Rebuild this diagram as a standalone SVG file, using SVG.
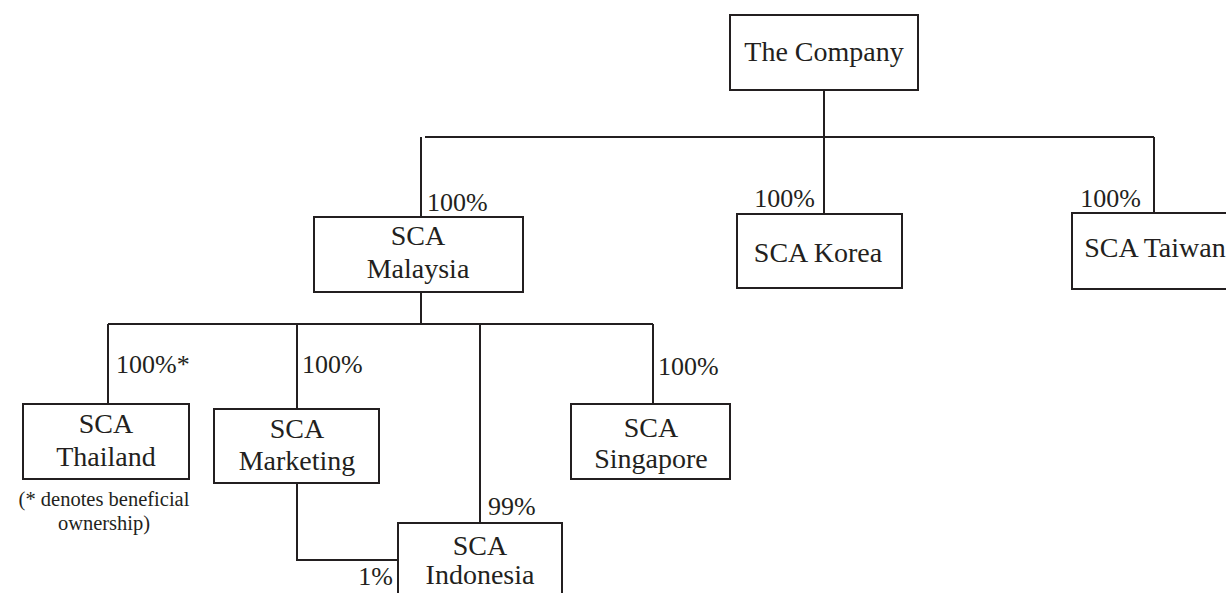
<svg xmlns="http://www.w3.org/2000/svg" width="1226" height="593" viewBox="0 0 1226 593">
<style>
rect.box{fill:#fff;stroke:#231f20;stroke-width:2}
.conn path{fill:none;stroke:#231f20;stroke-width:2}
text{font-family:"Liberation Serif","Times New Roman",serif;fill:#231f20}
.n{font-size:28px;text-anchor:middle}
.p{font-size:26px}
.note{font-size:20.5px;text-anchor:middle}
</style>
<rect width="1226" height="593" fill="#fff"/>
<g class="conn" id="connectors">
<path d="M824 90V137M425 137H1154M421 137V217M824 137V214M1154 137V213"/>
<path d="M421 292V324M108 324H653M108 324V404M297 324V409M480 324V523M653 324V404"/>
<path d="M297 483V560H398"/>
</g>
<g id="company"><rect class="box" x="730" y="15" width="188" height="75"/><text class="n" x="824" y="61">The Company</text></g>
<g id="malaysia"><rect class="box" x="314" y="217" width="209" height="75"/><text class="n" x="418" y="245">SCA</text><text class="n" x="418" y="278">Malaysia</text><text class="p" x="427" y="211">100%</text></g>
<g id="korea"><rect class="box" x="737" y="214" width="165" height="74"/><text class="n" x="818" y="262">SCA Korea</text><text class="p" x="815" y="207" text-anchor="end">100%</text></g>
<g id="taiwan"><rect class="box" x="1072" y="213" width="170" height="76"/><text class="n" x="1155" y="257">SCA Taiwan</text><text class="p" x="1141" y="207" text-anchor="end">100%</text></g>
<g id="thailand"><rect class="box" x="23" y="404" width="166" height="75"/><text class="n" x="106" y="433">SCA</text><text class="n" x="106" y="466">Thailand</text><text class="p" x="116" y="373">100%*</text></g>
<g id="note"><text class="note" x="104" y="506">(* denotes beneficial</text><text class="note" x="104" y="530">ownership)</text></g>
<g id="marketing"><rect class="box" x="214" y="409" width="165" height="74"/><text class="n" x="297" y="438">SCA</text><text class="n" x="297" y="470">Marketing</text><text class="p" x="302" y="373">100%</text></g>
<g id="singapore"><rect class="box" x="571" y="404" width="159" height="75"/><text class="n" x="651" y="437">SCA</text><text class="n" x="651" y="468">Singapore</text><text class="p" x="658" y="375">100%</text></g>
<g id="indonesia"><rect class="box" x="398" y="523" width="164" height="80"/><text class="n" x="480" y="555">SCA</text><text class="n" x="480" y="584">Indonesia</text><text class="p" x="488" y="515">99%</text><text class="p" x="393" y="585" text-anchor="end">1%</text></g>
</svg>
